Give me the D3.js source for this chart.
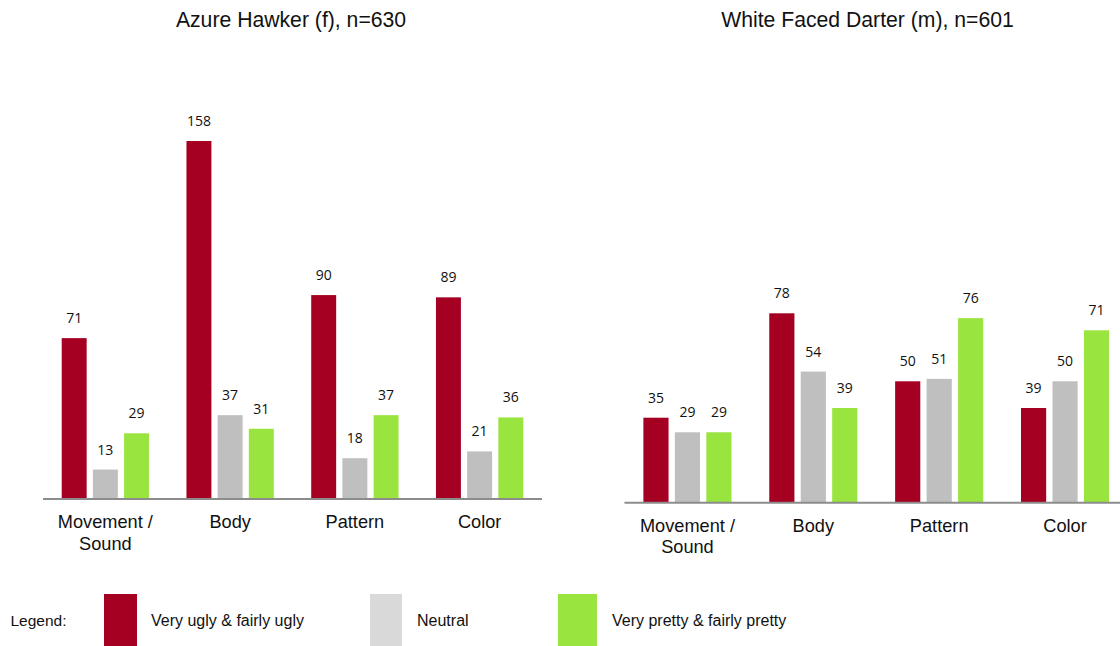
<!DOCTYPE html>
<html>
<head>
<meta charset="utf-8">
<script src="https://cdn.jsdelivr.net/npm/d3@7"></script>
<style>
  html, body { margin: 0; padding: 0; background: #fff; }
  svg { display: block; }
</style>
</head>
<body>
<svg id="chart" width="1120" height="646"></svg>
<script>
const categories = ["Movement /\nSound", "Body", "Pattern", "Color"];
const seriesNames = ["Very ugly & fairly ugly", "Neutral", "Very pretty & fairly pretty"];
const barColors = ["#A50021", "#BFBFBF", "#99E43F"];
const legendColors = ["#A50021", "#D9D9D9", "#99E43F"];

const leftTitle = "Azure Hawker (f), n=630";
const leftUgly    = [71, 158, 90, 89];
const leftNeutral = [13, 37, 18, 21];
const leftPretty  = [29, 31, 37, 36];

const rightTitle = "White Faced Darter (m), n=601";
const rightUgly    = [35, 78, 50, 39];
const rightNeutral = [29, 54, 51, 50];
const rightPretty  = [29, 39, 76, 71];

const svg = d3.select("#chart");
const FONT = "'Liberation Sans', Arial, sans-serif";
const LABEL_FONT = "'Open Sans', 'Noto Sans', sans-serif";

function panel(cfg) {
  const series = [cfg.ugly, cfg.neutral, cfg.pretty];
  const x0 = d3.scaleBand().domain(categories).range([cfg.x0, cfg.x1]).paddingInner(0).paddingOuter(0);
  const x1 = d3.scaleBand().domain(d3.range(3)).range([0, x0.bandwidth()]).paddingInner(0.2).paddingOuter(0.6);
  const maxV = d3.max(series.flat());
  const y = d3.scaleLinear().domain([0, maxV]).range([cfg.base, cfg.topY]);

  const g = svg.append("g");

  g.append("text")
    .attr("x", cfg.titleX).attr("y", 27)
    .attr("text-anchor", "middle")
    .attr("font-family", FONT).attr("font-size", 21.2)
    .attr("fill", "#111")
    .text(cfg.title);

  const rows = [];
  categories.forEach((c, i) => series.forEach((s, k) => rows.push({ c, k, v: s[i] })));

  g.selectAll("rect.bar").data(rows).enter().append("rect")
    .attr("class", "bar")
    .attr("x", d => x0(d.c) + x1(d.k))
    .attr("y", d => y(d.v))
    .attr("width", x1.bandwidth())
    .attr("height", d => y(0) - y(d.v))
    .attr("fill", d => barColors[d.k]);

  g.selectAll("text.val").data(rows).enter().append("text")
    .attr("class", "val")
    .attr("x", d => x0(d.c) + x1(d.k) + x1.bandwidth() / 2)
    .attr("y", d => y(d.v) - 15)
    .attr("text-anchor", "middle")
    .attr("font-family", LABEL_FONT).attr("font-size", 14)
    .attr("fill", "#111")
    .text(d => d.v);

  const axis = d3.axisBottom(x0).tickSize(0).tickFormat("");
  const ag = g.append("g").attr("transform", `translate(0,${cfg.base})`).call(axis);
  ag.select(".domain").attr("stroke", "#8C8C8C").attr("stroke-width", 2)
    .attr("d", `M${cfg.x0},0H${cfg.axisEnd}`);

  categories.forEach(c => {
    const lines = c.split("\n");
    const t = g.append("text")
      .attr("x", x0(c) + x0.bandwidth() / 2)
      .attr("y", cfg.base + 29)
      .attr("text-anchor", "middle")
      .attr("font-family", FONT).attr("font-size", 18.2)
      .attr("fill", "#111");
    lines.forEach((ln, j) => {
      t.append("tspan").attr("x", x0(c) + x0.bandwidth() / 2)
        .attr("dy", j === 0 ? 0 : 21.5).text(ln);
    });
  });
}

panel({ title: leftTitle, titleX: 291, ugly: leftUgly, neutral: leftNeutral, pretty: leftPretty,
        x0: 43, x1: 542, axisEnd: 542, base: 499, topY: 141 });
panel({ title: rightTitle, titleX: 867.5, ugly: rightUgly, neutral: rightNeutral, pretty: rightPretty,
        x0: 624.5, x1: 1128, axisEnd: 1120, base: 502.7, topY: 313.3 });

const legend = svg.append("g");
legend.append("text").attr("x", 10.5).attr("y", 626)
  .attr("font-family", FONT).attr("font-size", 15.5).attr("fill", "#111").text("Legend:");
const legendX = [104, 370, 558];
const legendW = [33, 32, 39];
const legendTextX = [151, 417, 612];
seriesNames.forEach((n, i) => {
  legend.append("rect").attr("x", legendX[i]).attr("y", 594)
    .attr("width", legendW[i]).attr("height", 52).attr("fill", legendColors[i]);
  legend.append("text").attr("x", legendTextX[i]).attr("y", 626)
    .attr("font-family", FONT).attr("font-size", 16).attr("fill", "#111").text(n);
});
</script>
</body>
</html>
